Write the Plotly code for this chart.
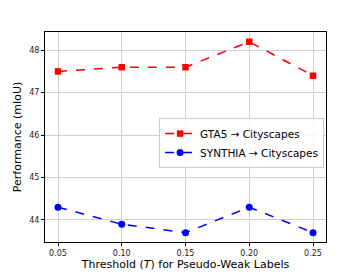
import plotly.graph_objects as go

thresholds = [0.05, 0.10, 0.15, 0.20, 0.25]
gta5 = [47.5, 47.6, 47.6, 48.2, 47.4]
synthia = [44.3, 43.9, 43.7, 44.3, 43.7]
x_ticks = [0.05, 0.10, 0.15, 0.20, 0.25]
x_tick_text = ["0.05", "0.10", "0.15", "0.20", "0.25"]
y_ticks = [44, 45, 46, 47, 48]

fig = go.Figure()
fig.add_trace(go.Scatter(x=thresholds, y=gta5, mode="lines+markers",
                         name="GTA5 → Cityscapes",
                         line=dict(color="#ff0000", dash="dash", width=1.5),
                         marker=dict(symbol="square", size=6.5, color="#ff0000")))
fig.add_trace(go.Scatter(x=thresholds, y=synthia, mode="lines+markers",
                         name="SYNTHIA → Cityscapes",
                         line=dict(color="#0000ff", dash="dash", width=1.5),
                         marker=dict(symbol="circle", size=7, color="#0000ff")))

axis_common = dict(showgrid=True, gridcolor="#d0d0d0", gridwidth=1,
                   showline=True, linecolor="black", linewidth=1, mirror=True,
                   ticks="outside", ticklen=3, tickcolor="black", zeroline=False,
                   automargin=False,
                   tickfont=dict(family="DejaVu Sans", size=8, color="#222"))

fig.update_layout(
    width=355, height=264,
    margin=dict(l=37, r=37, t=24, b=30, autoexpand=False),
    paper_bgcolor="white", plot_bgcolor="white",
    font=dict(family="DejaVu Sans", color="black"),
    xaxis=dict(range=[0.0398, 0.2602], tickvals=x_ticks, ticktext=x_tick_text,
               title=dict(text="Threshold (<i>T</i>) for Pseudo-Weak Labels",
                          font=dict(size=11), standoff=3),
               **axis_common),
    yaxis=dict(range=[43.48, 48.43], tickvals=y_ticks,
               title=dict(text="Performance (mIoU)", font=dict(size=11), standoff=5),
               **axis_common),
    legend=dict(x=0.406, y=0.59, xanchor="left", yanchor="top",
                bgcolor="rgba(255,255,255,0.85)", bordercolor="#cccccc", borderwidth=1,
                font=dict(size=10.5), tracegroupgap=0, itemwidth=30),
    showlegend=True,
)

fig.write_html("out.html")
